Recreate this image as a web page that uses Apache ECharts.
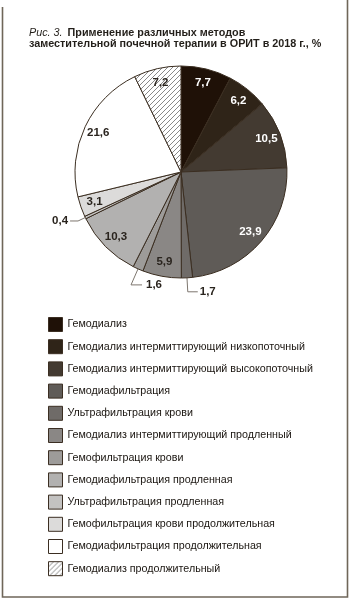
<!DOCTYPE html>
<html>
<head>
<meta charset="utf-8">
<script src="https://cdn.jsdelivr.net/npm/echarts@6/dist/echarts.min.js"></script>
<style>
  html, body { margin: 0; padding: 0; background: #fff; }
  #chart { width: 350px; height: 599px; }
</style>
</head>
<body>
<div id="chart"></div>
<script>
// Methods of renal replacement therapy in ICU, 2018, %
var methods = [
  'Гемодиализ',
  'Гемодиализ интермиттирующий низкопоточный',
  'Гемодиализ интермиттирующий высокопоточный',
  'Гемодиафильтрация',
  'Ультрафильтрация крови',
  'Гемодиализ интермиттирующий продленный',
  'Гемофильтрация крови',
  'Гемодиафильтрация продленная',
  'Ультрафильтрация продленная',
  'Гемофильтрация крови продолжительная',
  'Гемодиафильтрация продолжительная',
  'Гемодиализ продолжительный'
];
var shares = [7.7, 6.2, 10.5, 23.9, 1.7, 5.9, 1.6, 10.3, 0.4, 3.1, 21.6, 7.2];

var sliceColors = ['#1f1107', '#2f2418', '#433a31', '#5f5b57', '#6f6b68', '#8a8785',
                   '#9d9b99', '#b2b1b0', '#c3c2c1', '#dcdbda', '#ffffff', null];
// slices whose value sits outside with a leader line
var outsideIdx = [4, 6, 8];
var lightText = [0, 1, 2, 3];

// diagonal hatching for the last slice
function hatch() {
  var s = 5, c = document.createElement('canvas');
  c.width = s; c.height = s;
  var g = c.getContext('2d');
  g.fillStyle = '#ffffff'; g.fillRect(0, 0, s, s);
  g.strokeStyle = '#7a7a7a'; g.lineWidth = 0.9;
  g.beginPath();
  g.moveTo(0, s); g.lineTo(s, 0);
  g.moveTo(-1, 1); g.lineTo(1, -1);
  g.moveTo(s - 1, s + 1); g.lineTo(s + 1, s - 1);
  g.stroke();
  return { image: c, repeat: 'repeat' };
}
sliceColors[11] = hatch();

function fmt(v) { return String(v).replace('.', ','); }

var FONT = 'Liberation Sans';
var LINE = '#7d766e';

var mainData = methods.map(function (n, i) {
  var item = { name: n, value: shares[i], itemStyle: { color: sliceColors[i] } };
  if (outsideIdx.indexOf(i) >= 0) {
    item.label = { show: true };
    item.labelLine = { show: true };
    if (i === 8) item.labelLine = { show: true, length: 8, length2: 8 };
    if (i === 4) item.labelLine = { show: true, length: 14, length2: 10 };
  } else {
    item.label = { show: false };
    item.labelLine = { show: false };
  }
  return item;
});

var ringData = methods.map(function (n, i) {
  return {
    name: n, value: shares[i],
    label: {
      show: outsideIdx.indexOf(i) < 0,
      color: lightText.indexOf(i) >= 0 ? '#ffffff' : '#2a241e'
    }
  };
});

var chart = echarts.init(document.getElementById('chart'), null, { renderer: 'canvas' });
chart.setOption({
  animation: false,
  title: {
    left: 24, top: 22,
    text: '{i|Рис. 3.} {b|Применение различных методов}\n{b|заместительной почечной терапии в ОРИТ в 2018 г., %}',
    textStyle: {
      lineHeight: 11.5,
      rich: {
        i: { fontFamily: FONT, fontSize: 10.8, fontStyle: 'italic', fontWeight: 'normal', color: '#231f1a', lineHeight: 11.5 },
        b: { fontFamily: FONT, fontSize: 10.8, fontWeight: 'bold', color: '#231f1a', lineHeight: 11.5 }
      }
    }
  },
  legend: {
    orient: 'vertical',
    left: 43, top: 312,
    itemWidth: 14, itemHeight: 14, itemGap: 7.2,
    icon: 'rect',
    data: methods,
    selectedMode: false,
    itemStyle: { borderColor: '#3b2e22', borderWidth: 1 },
    textStyle: { fontFamily: FONT, fontSize: 10.7, color: '#1a1510' }
  },
  graphic: [
    { type: 'polyline', shape: { points: [[2.5, 7], [2.5, 597], [347.5, 597], [347.5, 0]] },
      style: { stroke: '#6f6659', lineWidth: 1.6, fill: null } }
  ],
  series: [
    {
      type: 'pie',
      center: [181, 172], radius: [0, 106],
      startAngle: 90, clockwise: true,
      avoidLabelOverlap: false,
      itemStyle: { borderColor: '#3a2d20', borderWidth: 1 },
      label: {
        position: 'outside', formatter: function (p) { return fmt(p.value); },
        fontFamily: FONT, fontSize: 11.5, fontWeight: 'bold', color: '#2a241e', distanceToLabelLine: 2
      },
      labelLine: { lineStyle: { color: LINE, width: 1 } },
      labelLayout: function (p) {
        if (p.dataIndex !== 6 || !p.labelLinePoints) return {};
        var p0 = p.labelLinePoints[0];
        var y = p0[1] + 16;
        return {
          x: p0[0] + 8, y: y, align: 'left', verticalAlign: 'middle',
          labelLinePoints: [p0, [p0[0] - 7, y], [p0[0] + 4, y]]
        };
      },
      emphasis: { disabled: true },
      data: mainData
    },
    {
      // transparent ring that only carries the inner value labels
      type: 'pie',
      center: [181, 172], radius: [71, 106],
      startAngle: 90, clockwise: true,
      silent: true, legendHoverLink: false,
      itemStyle: { color: 'rgba(0,0,0,0)', borderWidth: 0 },
      label: {
        position: 'inside', formatter: function (p) { return fmt(p.value); },
        fontFamily: FONT, fontSize: 11.5, fontWeight: 'bold'
      },
      labelLine: { show: false },
      emphasis: { disabled: true },
      data: ringData
    }
  ]
});
</script>
</body>
</html>
